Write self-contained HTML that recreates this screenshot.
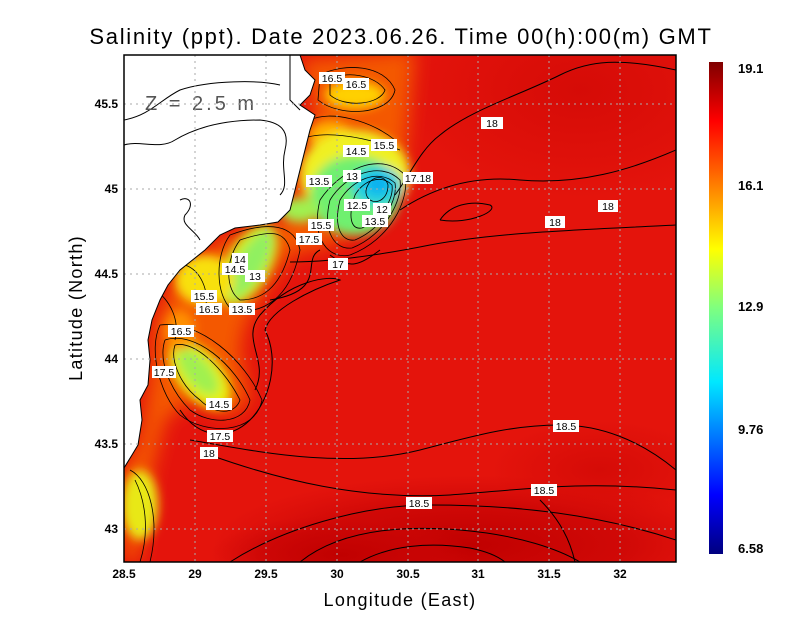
<!DOCTYPE html>
<html><head><meta charset="utf-8"><style>
body{margin:0;background:#fff;}
svg{display:block;font-family:"Liberation Sans",sans-serif;}
</style></head><body>
<svg width="800" height="618" viewBox="0 0 800 618" xmlns="http://www.w3.org/2000/svg">
<defs>
<clipPath id="pc"><rect x="124" y="55" width="552" height="507"/></clipPath>
<filter id="b1" filterUnits="userSpaceOnUse" x="0" y="0" width="800" height="618"><feGaussianBlur stdDeviation="9"/></filter>
<filter id="b2" filterUnits="userSpaceOnUse" x="0" y="0" width="800" height="618"><feGaussianBlur stdDeviation="5"/></filter>
<radialGradient id="dr"><stop offset="0" stop-color="#c00000" stop-opacity="1"/><stop offset="0.6" stop-color="#c80404" stop-opacity="0.7"/><stop offset="1" stop-color="#d00808" stop-opacity="0"/></radialGradient>
<radialGradient id="dr2"><stop offset="0" stop-color="#d40a06" stop-opacity="0.9"/><stop offset="1" stop-color="#d40a06" stop-opacity="0"/></radialGradient>
<linearGradient id="cb" x1="0" y1="1" x2="0" y2="0">
<stop offset="0" stop-color="#00007f"/><stop offset="0.12" stop-color="#0000ff"/>
<stop offset="0.35" stop-color="#00e8ff"/><stop offset="0.5" stop-color="#7fff7f"/>
<stop offset="0.62" stop-color="#ffff00"/><stop offset="0.78" stop-color="#ff6000"/>
<stop offset="0.88" stop-color="#ff0000"/><stop offset="1" stop-color="#7f0000"/>
</linearGradient>
</defs>
<text x="401" y="44" font-size="22" text-anchor="middle" letter-spacing="1.7">Salinity (ppt). Date 2023.06.26. Time 00(h):00(m) GMT</text>
<g clip-path="url(#pc)">
<rect x="124" y="55" width="552" height="507" fill="#e4140c"/>
<ellipse cx="580" cy="90" rx="180" ry="110" fill="url(#dr2)"/>
<ellipse cx="470" cy="545" rx="260" ry="70" fill="url(#dr)"/>
<ellipse cx="340" cy="555" rx="130" ry="40" fill="url(#dr)"/>
<ellipse cx="600" cy="470" rx="110" ry="50" fill="url(#dr2)"/>
<g filter="url(#b1)">
<path d="M124 470 L140 440 L150 380 L155 320 L175 280 L220 240 L280 225 L300 180 L315 110 L300 60 L415 50 L405 150 L390 200 L365 225 L330 245 L290 255 L262 295 L245 325 L240 350 L250 400 L230 415 L190 400 L165 420 L152 470 L145 520 L138 562 L124 562 Z" fill="#f45800"/>
</g>
<g filter="url(#b2)">
<ellipse cx="355" cy="95" rx="30" ry="14" fill="#ffd000"/>
<ellipse cx="330" cy="135" rx="22" ry="14" fill="#ffb000"/>
<ellipse cx="355" cy="175" rx="55" ry="45" fill="#f0f020"/>
<ellipse cx="355" cy="195" rx="45" ry="40" fill="#70f070"/>
<ellipse cx="377" cy="186" rx="25" ry="20" fill="#20d0e0"/>
<ellipse cx="378" cy="184" rx="12" ry="10" fill="#10b0f0"/>
<ellipse cx="300" cy="210" rx="20" ry="12" fill="#a0f050"/>
<ellipse cx="248" cy="265" rx="22" ry="45" transform="rotate(30 248 265)" fill="#d0f020"/>
<ellipse cx="250" cy="265" rx="13" ry="38" transform="rotate(30 250 265)" fill="#90f060"/>
<ellipse cx="205" cy="280" rx="30" ry="25" fill="#f8e010"/>
<ellipse cx="200" cy="375" rx="22" ry="40" transform="rotate(-40 200 375)" fill="#e8f010"/>
<ellipse cx="198" cy="372" rx="13" ry="28" transform="rotate(-40 198 372)" fill="#a0f050"/>
<ellipse cx="140" cy="505" rx="18" ry="35" fill="#e8e818"/>
<ellipse cx="180" cy="330" rx="15" ry="20" fill="#ff9000"/>
</g>
<g fill="none" stroke="#000" stroke-width="1">
<path d="M395 195 C410 175 420 150 440 135 C470 110 520 95 560 75 C590 60 620 58 676 70"/>
<path d="M400 210 C430 190 470 175 520 180 C580 185 630 170 676 150"/>
<path d="M290 262 C330 262 380 255 430 245 C500 232 580 230 676 225"/>
<path d="M330 255 C350 270 360 265 380 250"/>
<path d="M270 300 C330 290 300 260 320 250"/>
<path d="M440 220 C450 205 470 200 490 205 C500 210 470 225 440 220"/>
<path d="M255 390 C270 360 240 340 260 315 C290 280 330 275 340 280 C310 290 270 310 265 330 C280 360 270 400 250 420 C230 440 200 440 180 410"/>
<path d="M190 440 C250 450 340 470 420 450 C470 437 510 425 560 425 C600 425 640 440 676 470"/>
<path d="M210 455 C280 480 360 500 450 495 C520 490 580 480 676 490"/>
<path d="M230 562 C280 530 360 505 430 505 C520 505 600 515 676 540"/>
<path d="M300 562 C340 530 400 525 460 530 C520 535 560 550 580 562"/>
<path d="M360 562 C390 545 430 542 470 548 C490 552 500 558 505 562"/>
<path d="M540 500 C560 520 570 540 575 562"/>
<g stroke-width="0.8">
<path d="M320 200 C340 170 380 150 405 175 C410 200 390 240 350 255 C330 260 310 240 320 200"/>
<path d="M330 200 C345 175 380 160 400 180 C403 200 385 235 352 248 C335 250 322 232 330 200"/>
<path d="M340 200 C352 180 378 168 395 183 C398 200 383 228 355 240 C342 242 333 228 340 200"/>
<path d="M355 195 C362 182 380 173 392 185 C394 200 380 220 362 228 C350 230 348 215 355 195"/>
<path d="M368 185 C372 176 385 174 388 185 C388 198 378 205 370 200 C365 196 365 190 368 185"/>
<path d="M240 240 C270 230 285 230 290 250 C280 290 260 300 240 300 C225 290 225 260 240 240"/>
<path d="M230 235 C270 220 295 225 300 250 C290 300 262 315 232 310 C215 295 215 255 230 235"/>
<path d="M175 345 C195 340 225 370 240 400 C235 415 215 415 200 400 C180 385 170 360 175 345"/>
<path d="M165 340 C195 330 235 365 250 400 C245 425 210 425 190 410 C170 390 158 360 165 340"/>
<path d="M160 325 C200 320 245 360 262 400 C255 435 205 435 180 415 C160 395 148 350 160 325"/>
<path d="M330 80 C345 70 375 75 385 90 C380 105 345 108 330 95 Z"/>
<path d="M320 75 C345 62 385 65 395 90 C390 115 340 118 318 100 Z"/>
<path d="M310 120 C330 110 370 120 395 140"/>
<path d="M300 140 C320 130 360 135 400 150"/>
<path d="M130 470 C150 480 160 520 150 562"/>
<path d="M135 480 C145 500 150 530 140 562"/>
<path d="M155 290 C170 300 180 320 175 340"/>
<path d="M185 265 C200 270 210 290 205 310"/>
</g>
</g>
<path d="M124 55 L300 55 L305 70 L315 80 L310 95 L300 105 L315 115 L310 130 L305 150 L300 170 L295 190 L290 210 L278 222 L260 225 L235 228 L220 235 L205 250 L190 262 L180 270 L168 285 L160 300 L152 320 L148 340 L150 360 L148 385 L140 400 L142 420 L138 445 L132 455 L124 468 Z" fill="#fff" stroke="#000" stroke-width="1"/>
<g fill="none" stroke="#000" stroke-width="1">
<path d="M124 145 C140 140 160 150 175 140 C200 125 230 120 260 120 C280 122 290 130 285 150 C280 170 290 185 280 195"/>
<path d="M124 120 C150 115 160 100 180 90 C210 80 260 80 280 85"/>
<path d="M180 200 C190 195 195 205 185 215 C180 225 195 230 200 240"/>
<path d="M290 55 L290 100 L300 110"/>
</g>
<text x="145" y="110" font-size="20" fill="#555" letter-spacing="3">Z = 2.5 m</text>
</g>
<g stroke="#aaa" stroke-width="1" stroke-dasharray="2,4">
<path d="M195 55V562M266 55V562M337 55V562M408 55V562M478 55V562M549 55V562M620 55V562"/>
<path d="M124 104H676M124 189H676M124 274H676M124 359H676M124 444H676M124 529H676"/>
</g>
<rect x="124" y="55" width="552" height="507" fill="none" stroke="#000" stroke-width="1.5"/>
<g font-size="10.5" text-anchor="middle">
<g fill="#fff"><rect x="319" y="72" width="26" height="12"/><rect x="343" y="78" width="26" height="12"/><rect x="481" y="117" width="22" height="12"/><rect x="371" y="139" width="26" height="12"/><rect x="343" y="145" width="26" height="12"/><rect x="403" y="172" width="30" height="12"/><rect x="306" y="175" width="26" height="12"/><rect x="343" y="170" width="18" height="12"/><rect x="598" y="200" width="20" height="12"/><rect x="344" y="199" width="26" height="12"/><rect x="373" y="203" width="18" height="12"/><rect x="362" y="215" width="26" height="12"/><rect x="308" y="219" width="26" height="12"/><rect x="545" y="216" width="20" height="12"/><rect x="296" y="233" width="26" height="12"/><rect x="328" y="258" width="20" height="12"/><rect x="232" y="253" width="16" height="12"/><rect x="222" y="263" width="26" height="12"/><rect x="245" y="270" width="20" height="12"/><rect x="191" y="290" width="26" height="12"/><rect x="196" y="303" width="26" height="12"/><rect x="229" y="303" width="26" height="12"/><rect x="168" y="325" width="26" height="12"/><rect x="152" y="366" width="24" height="12"/><rect x="206" y="398" width="26" height="12"/><rect x="207" y="430" width="26" height="12"/><rect x="200" y="447" width="18" height="12"/><rect x="553" y="420" width="26" height="12"/><rect x="531" y="484" width="26" height="12"/><rect x="406" y="497" width="26" height="12"/></g>
<text x="332" y="82">16.5</text><text x="356" y="88">16.5</text><text x="492" y="127">18</text><text x="384" y="149">15.5</text><text x="356" y="155">14.5</text><text x="418" y="182">17.18</text><text x="319" y="185">13.5</text><text x="352" y="180">13</text><text x="608" y="210">18</text><text x="357" y="209">12.5</text><text x="382" y="213">12</text><text x="375" y="225">13.5</text><text x="321" y="229">15.5</text><text x="555" y="226">18</text><text x="309" y="243">17.5</text><text x="338" y="268">17</text><text x="240" y="263">14</text><text x="235" y="273">14.5</text><text x="255" y="280">13</text><text x="204" y="300">15.5</text><text x="209" y="313">16.5</text><text x="242" y="313">13.5</text><text x="181" y="335">16.5</text><text x="164" y="376">17.5</text><text x="219" y="408">14.5</text><text x="220" y="440">17.5</text><text x="209" y="457">18</text><text x="566" y="430">18.5</text><text x="544" y="494">18.5</text><text x="419" y="507">18.5</text>
</g>
<g font-size="12" text-anchor="end" font-weight="bold">
<text x="118" y="108">45.5</text><text x="118" y="193">45</text><text x="118" y="278">44.5</text><text x="118" y="363">44</text><text x="118" y="448">43.5</text><text x="118" y="533">43</text>
</g>
<g font-size="12" text-anchor="middle" font-weight="bold">
<text x="124" y="578">28.5</text><text x="195" y="578">29</text><text x="266" y="578">29.5</text><text x="337" y="578">30</text><text x="408" y="578">30.5</text><text x="478" y="578">31</text><text x="549" y="578">31.5</text><text x="620" y="578">32</text>
</g>
<text x="400" y="606" font-size="18" text-anchor="middle" letter-spacing="1.3">Longitude (East)</text>
<text transform="translate(82 308) rotate(-90)" font-size="18" text-anchor="middle" letter-spacing="1.3">Latitude (North)</text>
<rect x="709" y="62" width="14" height="492" fill="url(#cb)"/>
<g font-size="13" font-weight="bold">
<text x="738" y="73">19.1</text><text x="738" y="190">16.1</text><text x="738" y="311">12.9</text><text x="738" y="434">9.76</text><text x="738" y="553">6.58</text>
</g>
</svg>
</body></html>
